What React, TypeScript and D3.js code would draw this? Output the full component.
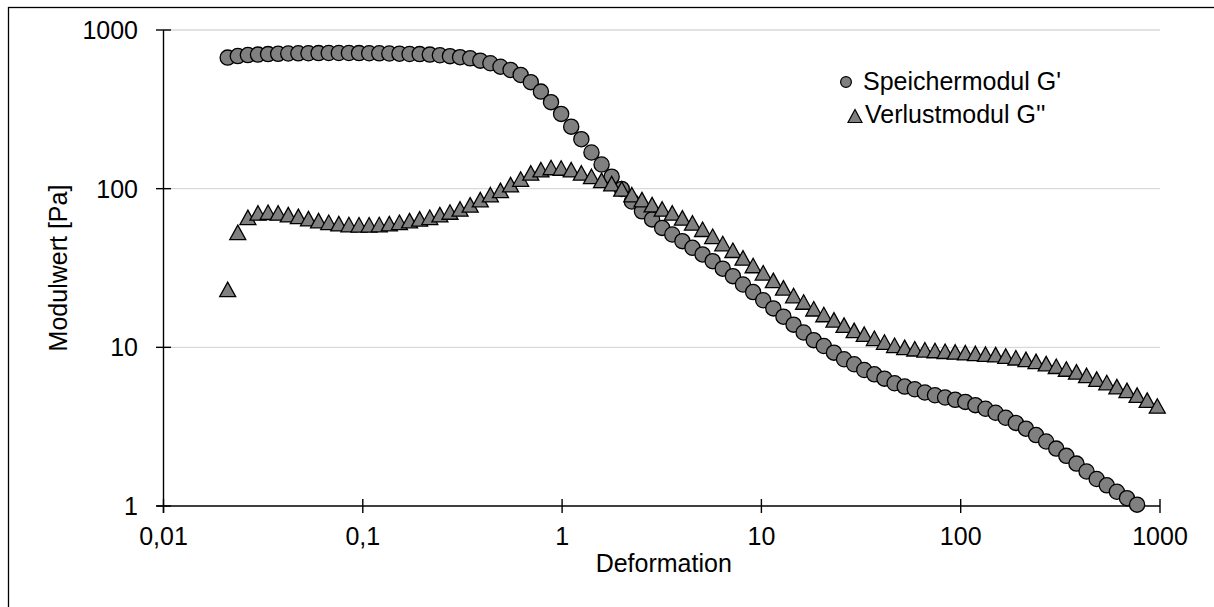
import React from "react";
import * as d3 from "d3";

// Deformation (strain) of the amplitude sweep, log-spaced
const deformation = [
  0.02099, 0.02359, 0.02651, 0.02979, 0.03347, 0.03761, 0.04226, 0.04749, 0.05337, 0.05997,
  0.06745, 0.07579, 0.08517, 0.09571, 0.1076, 0.1209, 0.1358, 0.1527, 0.1716, 0.1928,
  0.2168, 0.2436, 0.2737, 0.3076, 0.3457, 0.3885, 0.4366, 0.4906, 0.5513, 0.6195,
  0.6966, 0.7828, 0.8797, 0.9888, 1.111, 1.249, 1.404, 1.578, 1.773, 1.992,
  2.239, 2.516, 2.828, 3.177, 3.571, 4.013, 4.51, 5.068, 5.695, 6.4,
  7.194, 8.084, 9.087, 10.21, 11.48, 12.9, 14.5, 16.29, 18.31, 20.57,
  23.12, 25.98, 29.2, 32.81, 36.88, 41.44, 46.58, 52.34, 58.82, 66.1,
  74.3, 83.5, 93.85, 105.5, 118.5, 133.2, 149.7, 168.2, 189.1, 212.5,
  238.8, 268.4, 301.6, 338.9, 380.9, 428.1, 481.1, 540.7, 607.6, 682.8,
  767.4, 862.4, 969.2,
];

// Speichermodul G' [Pa] (values below 1 Pa lie outside the axis)
const storageModulus = [
  670, 685, 695, 700, 705, 708, 711, 713, 714, 715,
  716, 716, 716, 715, 714, 713, 711, 709, 706, 705,
  700, 693, 684, 674, 663, 641, 617, 587, 560, 521,
  469, 409, 351, 296, 246, 205, 169, 142, 119, 99.6,
  83, 72, 64, 56.6, 51.4, 46.7, 42.4, 38.5, 34.9, 31.3,
  28.1, 24.9, 22.3, 19.8, 17.6, 15.6, 13.9, 12.4, 11.1, 10.2,
  9.26, 8.41, 7.82, 7.2, 6.76, 6.35, 5.94, 5.66, 5.44, 5.19,
  4.99, 4.83, 4.67, 4.53, 4.32, 4.1, 3.87, 3.6, 3.34, 3.07,
  2.8, 2.55, 2.3, 2.07, 1.85, 1.65, 1.48, 1.35, 1.23, 1.12,
  1.02,
];

// Verlustmodul G'' [Pa]
const lossModulus = [
  23.2, 53, 65.9, 70.3, 71, 70.3, 68.6, 66.9, 64.7, 62.9,
  61.4, 60.2, 59.4, 59.2, 59.2, 59.4, 60.2, 61.4, 62.9, 64.5,
  66, 68.6, 71.3, 74.5, 79, 85.3, 91.6, 97.6, 106, 115,
  125.6, 131.7, 136, 135, 131.7, 125.6, 119.4, 112.8, 107.5, 99.6,
  91.6, 85.3, 79.3, 74.5, 70.3, 65.4, 60.8, 55.5, 50.1, 45.1,
  40.9, 36.6, 32.8, 29.5, 26.4, 23.7, 21.2, 19.3, 17.5, 16.1,
  14.9, 13.8, 12.8, 12.1, 11.4, 10.8, 10.3, 10.0, 9.8, 9.65,
  9.55, 9.45, 9.35, 9.25, 9.15, 9.05, 9.0, 8.8, 8.6, 8.4,
  8.15, 7.9, 7.6, 7.3, 7.0, 6.65, 6.3, 6.0, 5.65, 5.35,
  5.0, 4.65, 4.27,
];

const xTicks = [0.01, 0.1, 1, 10, 100, 1000];
const xTickLabels = ["0,01", "0,1", "1", "10", "100", "1000"];
const yTicks = [1, 10, 100, 1000];
const yTickLabels = ["1", "10", "100", "1000"];

const seriesNames = ["Speichermodul G'", "Verlustmodul G''"];

const W = 1214;
const H = 607;
const FONT = "'Liberation Sans', Arial, Helvetica, sans-serif";
const FS = 25;
const MARKER_FILL = "#808080";
const MARKER_STROKE = "#000000";

const triPath = (hw: number, h: number) =>
  `M0,${-h / 2}L${hw},${h / 2}L${-hw},${h / 2}Z`;

export default function App() {
  const x = d3.scaleLog().domain([0.01, 1000]).range([163.5, 1160]);
  const y = d3.scaleLog().domain([1, 1000]).range([506, 30]);
  const [x0, x1] = x.range();
  const [yb, yt] = y.range();

  const gPts = deformation
    .map((d, i) => ({ d, v: storageModulus[i] }))
    .filter((p) => p.v !== undefined && p.v >= 1 && p.v <= 1000);
  const lPts = deformation
    .map((d, i) => ({ d, v: lossModulus[i] }))
    .filter((p) => p.v !== undefined && p.v >= 1 && p.v <= 1000);

  return (
    <svg
      width={W}
      height={H}
      style={{ position: "absolute", left: 0, top: 0, display: "block", background: "#fff" }}
      fontFamily={FONT}
    >
      <rect x={0} y={0} width={W} height={H} fill="#fff" />
      {/* chart area frame */}
      <rect x={8.5} y={7.5} width={W + 20} height={H + 20} fill="none" stroke="#000" strokeWidth={1.3} />

      {/* horizontal gridlines */}
      {yTicks
        .filter((t) => t > 1)
        .map((t) => (
          <line key={`g${t}`} x1={x0} x2={x1} y1={y(t)} y2={y(t)} stroke="#d9d9d9" strokeWidth={1.3} />
        ))}

      {/* axes */}
      <line x1={x0} x2={x0} y1={yt} y2={yb + 7} stroke="#000" strokeWidth={1.4} />
      <line x1={x0 - 7} x2={x1} y1={yb} y2={yb} stroke="#000" strokeWidth={1.4} />
      {yTicks.map((t) => (
        <line key={`yt${t}`} x1={x0 - 7.5} x2={x0 + 7.5} y1={y(t)} y2={y(t)} stroke="#000" strokeWidth={1.4} />
      ))}
      {xTicks.map((t) => (
        <line key={`xt${t}`} x1={x(t)} x2={x(t)} y1={yb - 7} y2={yb + 7} stroke="#000" strokeWidth={1.4} />
      ))}

      {/* tick labels */}
      {yTicks.map((t, i) => (
        <text key={`yl${t}`} x={138} y={y(t) + 9} fontSize={FS} textAnchor="end" fill="#000">
          {yTickLabels[i]}
        </text>
      ))}
      {xTicks.map((t, i) => (
        <text key={`xl${t}`} x={x(t)} y={545} fontSize={FS} textAnchor="middle" fill="#000">
          {xTickLabels[i]}
        </text>
      ))}

      {/* axis titles */}
      <text x={(x0 + x1) / 2 + 2} y={572} fontSize={FS} textAnchor="middle" fill="#000">
        Deformation
      </text>
      <text
        transform={`translate(67,${(yt + yb) / 2}) rotate(-90)`}
        fontSize={FS}
        textAnchor="middle"
        fill="#000"
      >
        Modulwert [Pa]
      </text>

      {/* G' markers */}
      <g>
        {gPts.map((p, i) => (
          <circle
            key={`c${i}`}
            cx={x(p.d)}
            cy={y(p.v)}
            r={7.6}
            fill={MARKER_FILL}
            stroke={MARKER_STROKE}
            strokeWidth={1.3}
          />
        ))}
      </g>
      {/* G'' markers */}
      <g>
        {lPts.map((p, i) => (
          <path
            key={`t${i}`}
            d={triPath(8, 14.5)}
            transform={`translate(${x(p.d)},${y(p.v)})`}
            fill={MARKER_FILL}
            stroke={MARKER_STROKE}
            strokeWidth={1.3}
            strokeLinejoin="miter"
          />
        ))}
      </g>

      {/* legend */}
      <g>
        <circle cx={846} cy={82} r={5.4} fill={MARKER_FILL} stroke={MARKER_STROKE} strokeWidth={1.2} />
        <text x={863} y={90} fontSize={FS} fill="#000">
          {seriesNames[0]}
        </text>
        <path
          d={triPath(7, 13)}
          transform="translate(855,116)"
          fill={MARKER_FILL}
          stroke={MARKER_STROKE}
          strokeWidth={1.2}
        />
        <text x={865} y={123} fontSize={FS} fill="#000">
          {seriesNames[1]}
        </text>
      </g>
    </svg>
  );
}
